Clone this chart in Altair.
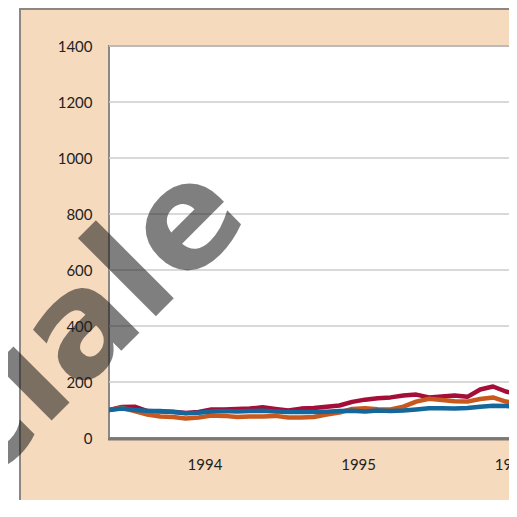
import altair as alt
import pandas as pd

# ---- data ----
months = list(range(33))  # monthly index, 0 = first observation
red = [100, 111, 112, 96, 95, 94, 89, 93, 102, 102, 104, 105, 110, 104, 98, 105,
       107, 112, 116, 129, 137, 142, 145, 152, 155, 145, 148, 152, 147, 173, 184, 166, 155]
orange = [100, 108, 96, 84, 77, 75, 70, 73, 80, 79, 75, 77, 77, 79, 73, 73,
          75, 84, 91, 104, 106, 103, 102, 112, 130, 140, 136, 131, 130, 139, 145, 130, 125]
blue = [100, 105, 100, 97, 96, 93, 88, 90, 95, 96, 95, 96, 97, 95, 93, 93,
        93, 94, 96, 97, 95, 98, 96, 98, 102, 106, 106, 105, 107, 112, 115, 114, 112]
series_names = ["Serie A", "Serie B", "Serie C"]
series_colors = ["#a50e37", "#c8581e", "#14679a"]
y_ticks = [0, 200, 400, 600, 800, 1000, 1200, 1400]
years = ["1994", "1995", "1996"]
first_year_label_pos = 7.5  # month index where the first year label is centred
watermark = "ufficiale"

# ---- layout ----
W, H = 400, 392
STEP = 12.8  # px per month
PAD = {"left": 101, "top": 38, "right": 0, "bottom": 62}
PEACH = "#f6dabd"
FONT = "Lato"

rows = []
for name, vals in zip(series_names, [red, orange, blue]):
    for m, v in zip(months, vals):
        rows.append({"m": m, "v": v, "s": name})
df = pd.DataFrame(rows)
grid_df = pd.DataFrame({"v": y_ticks[1:]})
year_df = pd.DataFrame({"label": years,
                        "pos": [first_year_label_pos + 12 * i for i in range(len(years))]})
one = alt.Data(values=[{}])

xs = alt.Scale(domain=[0, W / STEP], nice=False, zero=False)
ys = alt.Scale(domain=[0, 1400], nice=False)

panel = alt.Chart(one).mark_rect(fill=PEACH, stroke="#8c8782", strokeWidth=2).encode(
    x=alt.value(-89), x2=alt.value(W + 10), y=alt.value(-37), y2=alt.value(H + PAD["bottom"] + 5))

plotbg = alt.Chart(one).mark_rect(fill="white", stroke="#8c8782", strokeWidth=2).encode(
    x=alt.value(0), x2=alt.value(W + 10), y=alt.value(0), y2=alt.value(H))

grid = alt.Chart(grid_df).mark_rule(color="#cccccc", strokeWidth=1.5).encode(
    y=alt.Y("v:Q", scale=ys,
            axis=alt.Axis(values=y_ticks, grid=False, domain=False, ticks=False, format="d",
                          labelPadding=17, labelFont=FONT, labelFontSize=15,
                          labelColor="#222222", title=None, zindex=1)),
    x=alt.value(0), x2=alt.value(W))

lines = alt.Chart(df).mark_line(strokeWidth=4.5, clip=True, strokeJoin="round").encode(
    x=alt.X("m:Q", scale=xs, axis=None),
    y=alt.Y("v:Q", scale=ys),
    color=alt.Color("s:N", scale=alt.Scale(domain=series_names, range=series_colors), legend=None),
    order="m:Q")

bottom = alt.Chart(one).mark_rule(color="#7d7873", strokeWidth=3).encode(
    x=alt.value(-1), x2=alt.value(W + 5), y=alt.value(H + 1))

xlab = alt.Chart(year_df).mark_text(font=FONT, fontSize=15, color="#222222",
                                    baseline="middle", align="center").encode(
    x=alt.X("pos:Q", scale=xs), y=alt.value(H + 27), text="label:N")

wm = alt.Chart(one).mark_text(text=watermark, font="DejaVu Sans", fontWeight="bold",
                              fontSize=145, angle=315, align="right", baseline="alphabetic",
                              color="#181818", opacity=0.55).encode(
    x=alt.value(143), y=alt.value(174))

chart = alt.layer(panel, plotbg, grid, lines, bottom, xlab, wm).properties(
    width=W, height=H,
    autosize=alt.AutoSizeParams(type="none"),
    padding=PAD,
    background="white",
).configure_view(stroke=None)

chart.save("out.html", embed_options={"renderer": "svg", "actions": False})
